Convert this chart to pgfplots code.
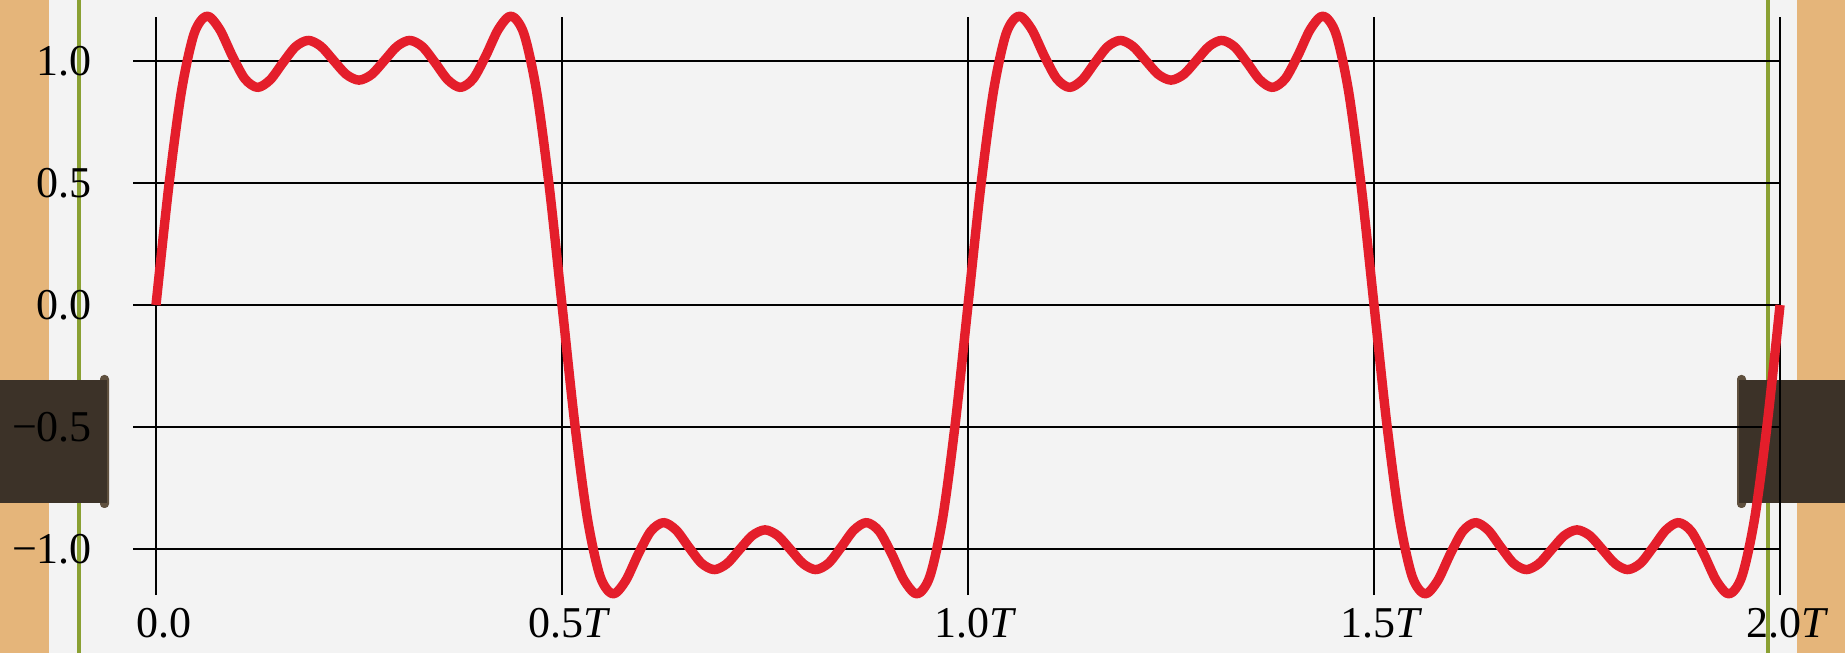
\documentclass[border=0pt]{standalone}
\usepackage{fontspec}
\setmainfont{Liberation Serif}
\usepackage{pgfplots}
\pgfplotsset{compat=1.18}
\definecolor{paper}{RGB}{243,243,243}
\definecolor{woodc}{RGB}{229,181,122}
\definecolor{olivec}{RGB}{138,160,50}
\definecolor{clipc}{RGB}{60,50,40}
\definecolor{knobc}{RGB}{95,80,62}
\definecolor{curvec}{RGB}{228,30,43}
\begin{document}
\begin{tikzpicture}
\useasboundingbox (0,0) rectangle (922.5pt,326.5pt);
\fill[paper] (0,0) rectangle (922.5pt,326.5pt);
\fill[woodc] (0,0) rectangle (24.5pt,326.5pt);
\fill[woodc] (898.5pt,0) rectangle (922.5pt,326.5pt);
\draw[olivec, line width=1.6pt] (39.5pt,0) -- (39.5pt,326.5pt);
\draw[olivec, line width=1.6pt] (884pt,0) -- (884pt,326.5pt);
\fill[knobc, rounded corners=2pt] (50pt,72.5pt) rectangle (54.5pt,139pt);
\fill[clipc] (0,75pt) rectangle (53.5pt,136.5pt);
\fill[knobc, rounded corners=2pt] (868.5pt,72.5pt) rectangle (873pt,139pt);
\fill[clipc] (869.5pt,75pt) rectangle (922.5pt,136.5pt);
\begin{axis}[
  at={(66.5pt,29pt)}, anchor=south west,
  scale only axis, width=823.5pt, height=289pt,
  xmin=-0.02833, xmax=2, ymin=-1.1885, ymax=1.1803,
  clip=false,
  axis line style={draw=none},
  xtick={0,0.5,1,1.5,2},
  xticklabels={0.0,0.5\textit{T},1.0\textit{T},1.5\textit{T},2.0\textit{T}},
  ytick={-1,-0.5,0,0.5,1},
  yticklabels={−1.0,−0.5,0.0,0.5,1.0},
  tick style={draw=none},
  grid=major,
  major grid style={black, line width=1pt},
  ticklabel style={font=\fontsize{22}{26}\selectfont},
  xticklabel style={xshift=4pt, yshift=-3pt},
  yticklabel style={xshift=-17pt},
]
\addplot[curvec, line width=4.7pt, smooth, line join=round] coordinates {
(0,0) (0.015625,0.4834) (0.03125,0.8743) (0.046875,1.1115) (0.0625,1.1842) (0.078125,1.1313) (0.09375,1.0221) (0.109375,0.9271) (0.125,0.8917) (0.140625,0.9228) (0.15625,0.9928) (0.171875,1.0585) (0.1875,1.0845) (0.203125,1.0599) (0.21875,1.0019) (0.234375,0.9449) (0.25,0.9216) (0.265625,0.9449) (0.28125,1.0019) (0.296875,1.0599) (0.3125,1.0845) (0.328125,1.0585) (0.34375,0.9928) (0.359375,0.9228) (0.375,0.8917) (0.390625,0.9271) (0.40625,1.0221) (0.421875,1.1313) (0.4375,1.1842) (0.453125,1.1115) (0.46875,0.8743) (0.484375,0.4834) (0.5,0)
(0.515625,-0.4834) (0.53125,-0.8743) (0.546875,-1.1115) (0.5625,-1.1842) (0.578125,-1.1313) (0.59375,-1.0221) (0.609375,-0.9271) (0.625,-0.8917) (0.640625,-0.9228) (0.65625,-0.9928) (0.671875,-1.0585) (0.6875,-1.0845) (0.703125,-1.0599) (0.71875,-1.0019) (0.734375,-0.9449) (0.75,-0.9216) (0.765625,-0.9449) (0.78125,-1.0019) (0.796875,-1.0599) (0.8125,-1.0845) (0.828125,-1.0585) (0.84375,-0.9928) (0.859375,-0.9228) (0.875,-0.8917) (0.890625,-0.9271) (0.90625,-1.0221) (0.921875,-1.1313) (0.9375,-1.1842) (0.953125,-1.1115) (0.96875,-0.8743) (0.984375,-0.4834) (1,0)
(1.015625,0.4834) (1.03125,0.8743) (1.046875,1.1115) (1.0625,1.1842) (1.078125,1.1313) (1.09375,1.0221) (1.109375,0.9271) (1.125,0.8917) (1.140625,0.9228) (1.15625,0.9928) (1.171875,1.0585) (1.1875,1.0845) (1.203125,1.0599) (1.21875,1.0019) (1.234375,0.9449) (1.25,0.9216) (1.265625,0.9449) (1.28125,1.0019) (1.296875,1.0599) (1.3125,1.0845) (1.328125,1.0585) (1.34375,0.9928) (1.359375,0.9228) (1.375,0.8917) (1.390625,0.9271) (1.40625,1.0221) (1.421875,1.1313) (1.4375,1.1842) (1.453125,1.1115) (1.46875,0.8743) (1.484375,0.4834) (1.5,0)
(1.515625,-0.4834) (1.53125,-0.8743) (1.546875,-1.1115) (1.5625,-1.1842) (1.578125,-1.1313) (1.59375,-1.0221) (1.609375,-0.9271) (1.625,-0.8917) (1.640625,-0.9228) (1.65625,-0.9928) (1.671875,-1.0585) (1.6875,-1.0845) (1.703125,-1.0599) (1.71875,-1.0019) (1.734375,-0.9449) (1.75,-0.9216) (1.765625,-0.9449) (1.78125,-1.0019) (1.796875,-1.0599) (1.8125,-1.0845) (1.828125,-1.0585) (1.84375,-0.9928) (1.859375,-0.9228) (1.875,-0.8917) (1.890625,-0.9271) (1.90625,-1.0221) (1.921875,-1.1313) (1.9375,-1.1842) (1.953125,-1.1115) (1.96875,-0.8743) (1.984375,-0.4834) (2,0)
};
\end{axis}
\end{tikzpicture}
\end{document}
